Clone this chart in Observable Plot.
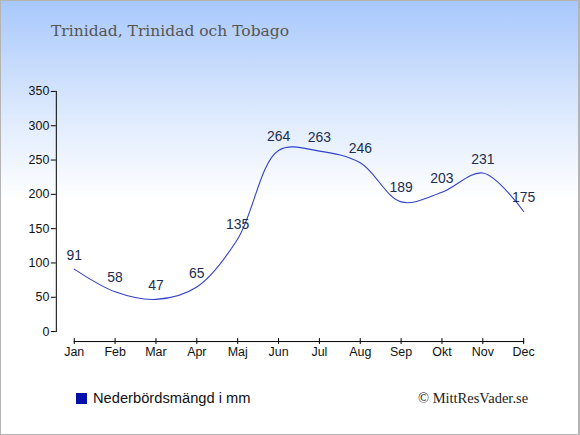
<!DOCTYPE html>
<html><head><meta charset="utf-8">
<script src="https://cdn.jsdelivr.net/npm/d3@7"></script>
<script src="https://cdn.jsdelivr.net/npm/@observablehq/plot@0.6"></script>
<style>
html,body{margin:0;padding:0;}
#wrap{position:relative;width:580px;height:435px;box-sizing:border-box;border:1px solid #b4b4b4;border-right-width:2px;
background:linear-gradient(to bottom,#a8c8fc 0px,#dce9fd 110px,#ffffff 200px,#ffffff 435px);overflow:hidden;}
#title{position:absolute;left:50px;top:21px;font-family:"DejaVu Serif","Liberation Serif",serif;font-size:15.5px;color:#555;}
#chart{position:absolute;left:-1px;top:69px;}
#legend{position:absolute;left:75px;top:389px;font-family:"Liberation Sans",Arial,sans-serif;font-size:14.7px;color:#111;}
#legend span.sw{display:inline-block;width:11px;height:11px;background:#0011aa;margin-right:6px;vertical-align:-1px;}
#credit{position:absolute;left:417px;top:389px;font-family:"Liberation Serif","DejaVu Serif",serif;font-size:14.5px;color:#222;}
</style></head>
<body>
<div id="wrap">
<div id="title">Trinidad, Trinidad och Tobago</div>
<div id="chart"></div>
<div id="legend"><span class="sw"></span>Nederbördsmängd i mm</div>
<div id="credit">© MittResVader.se</div>
</div>
<script>
const months = ["Jan","Feb","Mar","Apr","Maj","Jun","Jul","Aug","Sep","Okt","Nov","Dec"];
const rainfall = [91, 58, 47, 65, 135, 264, 263, 246, 189, 203, 231, 175];
const yTicks = [0, 50, 100, 150, 200, 250, 300, 350];

const data = months.map((m, i) => ({month: m, value: rainfall[i]}));

const chart = Plot.plot({
  width: 580,
  height: 296,
  marginLeft: 74,
  marginRight: 55,
  marginTop: 21,
  marginBottom: 34,
  style: {background: "transparent", fontFamily: "'Liberation Sans', Arial, sans-serif", fontSize: "12.5px"},
  x: {type: "point", domain: months, padding: 0},
  y: {domain: [0, 350]},
  marks: [
    Plot.frame({anchor: "left", dx: -18, stroke: "#000"}),
    Plot.frame({anchor: "bottom", dy: 10, stroke: "#000"}),
    Plot.axisY(yTicks, {dx: -18, tickSize: 5, tickPadding: 2, fill: "#111", label: null}),
    Plot.axisX(months, {dy: 7, tickSize: 6, tickPadding: 3, fill: "#111", label: null}),
    Plot.line(data, {x: "month", y: "value", curve: "catmull-rom", stroke: "#3340c8", strokeWidth: 1.1}),
    Plot.text(data, {x: "month", y: "value", text: d => String(d.value), dy: -14, fontSize: 14, fill: "#1c2d4f"})
  ]
});
document.getElementById("chart").appendChild(chart);
</script>
</body></html>
